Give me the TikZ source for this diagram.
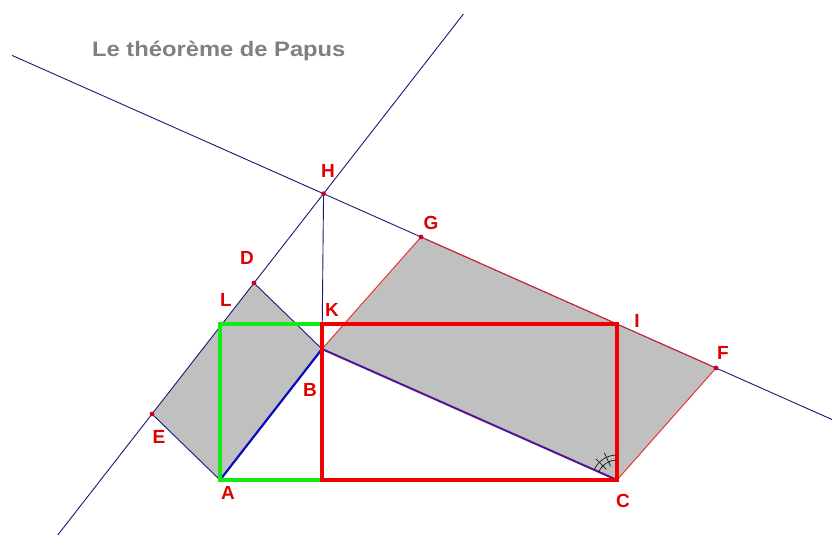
\documentclass[tikz,border=0pt]{standalone}
\usepackage{fontspec}
\setmainfont{Liberation Sans}
\usetikzlibrary{calc}
\definecolor{navy}{RGB}{25,25,115}
\definecolor{abblue}{RGB}{10,10,190}
\definecolor{bcpurple}{RGB}{85,20,150}
\definecolor{fillgray}{RGB}{192,192,192}
\definecolor{rectred}{RGB}{240,0,0}
\definecolor{thinred}{RGB}{235,40,40}
\definecolor{rectgreen}{RGB}{20,235,20}
\definecolor{labred}{RGB}{225,0,0}
\definecolor{titlegray}{RGB}{128,128,128}
\definecolor{dotred}{RGB}{200,0,40}
\tikzset{
  thinline/.style={draw=navy,line width=0.9pt},
  redthin/.style={draw=thinred,line width=0.9pt},
  pgram/.style={fill=fillgray},
  thickrect/.style={line width=4pt,line join=miter,line cap=rect},
  ptlabel/.style={text=labred,font=\fontsize{19}{19}\selectfont\bfseries,anchor=base,inner sep=0pt},
  ptdot/.style={fill=dotred},
  anglemark/.style={draw=black,line width=0.6pt}
}
\begin{document}
\begin{tikzpicture}[x=1pt,y=-1pt]
\useasboundingbox (0,0) rectangle (832,537);
% points
\coordinate (A) at (220,480);
\coordinate (B) at (322,349);
\coordinate (C) at (617,480);
\coordinate (E) at (152,414);
\coordinate (D) at (254,283);
\coordinate (G) at (421,237);
\coordinate (F) at (716,368);
\coordinate (H) at (intersection of E--D and G--F);
\coordinate (L) at (220,324);
\coordinate (K) at (322,324);
\coordinate (I) at (617,324);
\coordinate (M) at (322,480);
% line ends
\coordinate (e1) at ($(E)!-0.924!(D)$);
\coordinate (e2) at ($(E)!3.053!(D)$);
\coordinate (g1) at ($(G)!-1.386!(F)$);
\coordinate (g2) at ($(G)!1.393!(F)$);
% gray parallelograms
\fill[pgram] (A) -- (B) -- (D) -- (E) -- cycle;
\fill[pgram] (B) -- (G) -- (F) -- (C) -- cycle;
% long lines
\draw[thinline] (e1) -- (e2);
\draw[thinline] (g1) -- (g2);
\draw[thinline] (H) -- (B);
\draw[thinline] (A) -- (E);
\draw[thinline] (D) -- (B);
% red parallelogram edges
\draw[redthin] (B) -- (G);
\draw[redthin] (G) -- (F);
\draw[redthin] (F) -- (C);
% triangle sides
\draw[abblue,line width=2.2pt] (A) -- (B);
\draw[bcpurple,line width=2pt] (B) -- (C);
% rectangles
\draw[thickrect,rectgreen] (K) -- (L) -- (A) -- (M);
\draw[thickrect,rectred] (K) -- (I) -- (C) -- (M) -- cycle;
% angle mark at C
\draw[anglemark] ([shift={(204:20)}]C) arc[start angle=204,end angle=268,radius=20];
\draw[anglemark] ([shift={(204:25)}]C) arc[start angle=204,end angle=268,radius=25];
\draw[anglemark] ([shift={(225:15)}]C) -- ([shift={(225:30)}]C);
\draw[anglemark] ([shift={(245:15)}]C) -- ([shift={(245:30)}]C);
% dots
\foreach \p in {D,E,F,G,H} \fill[ptdot] (\p) circle[radius=2.4];
% labels
\node[ptlabel] (lH) at (328,178) {H};
\node[ptlabel] (lG) at (431,230) {G};
\node[ptlabel] (lD) at (247,265) {D};
\node[ptlabel] (lL) at (226,306) {L};
\node[ptlabel] (lK) at (332,316) {K};
\node[ptlabel] (lB) at (310,396) {B};
\node[ptlabel] (lE) at (159,443) {E};
\node[ptlabel] (lA) at (228,499) {A};
\node[ptlabel] (lC) at (623,507) {C};
\node[ptlabel] (lI) at (637,327) {I};
\node[ptlabel] (lF) at (723,359) {F};
% title
\node[anchor=base west,inner sep=0pt,text=titlegray,font=\fontsize{21}{21}\selectfont\bfseries,xscale=1.13] (title) at (92,57) {Le théorème de Papus};
\end{tikzpicture}
\end{document}
